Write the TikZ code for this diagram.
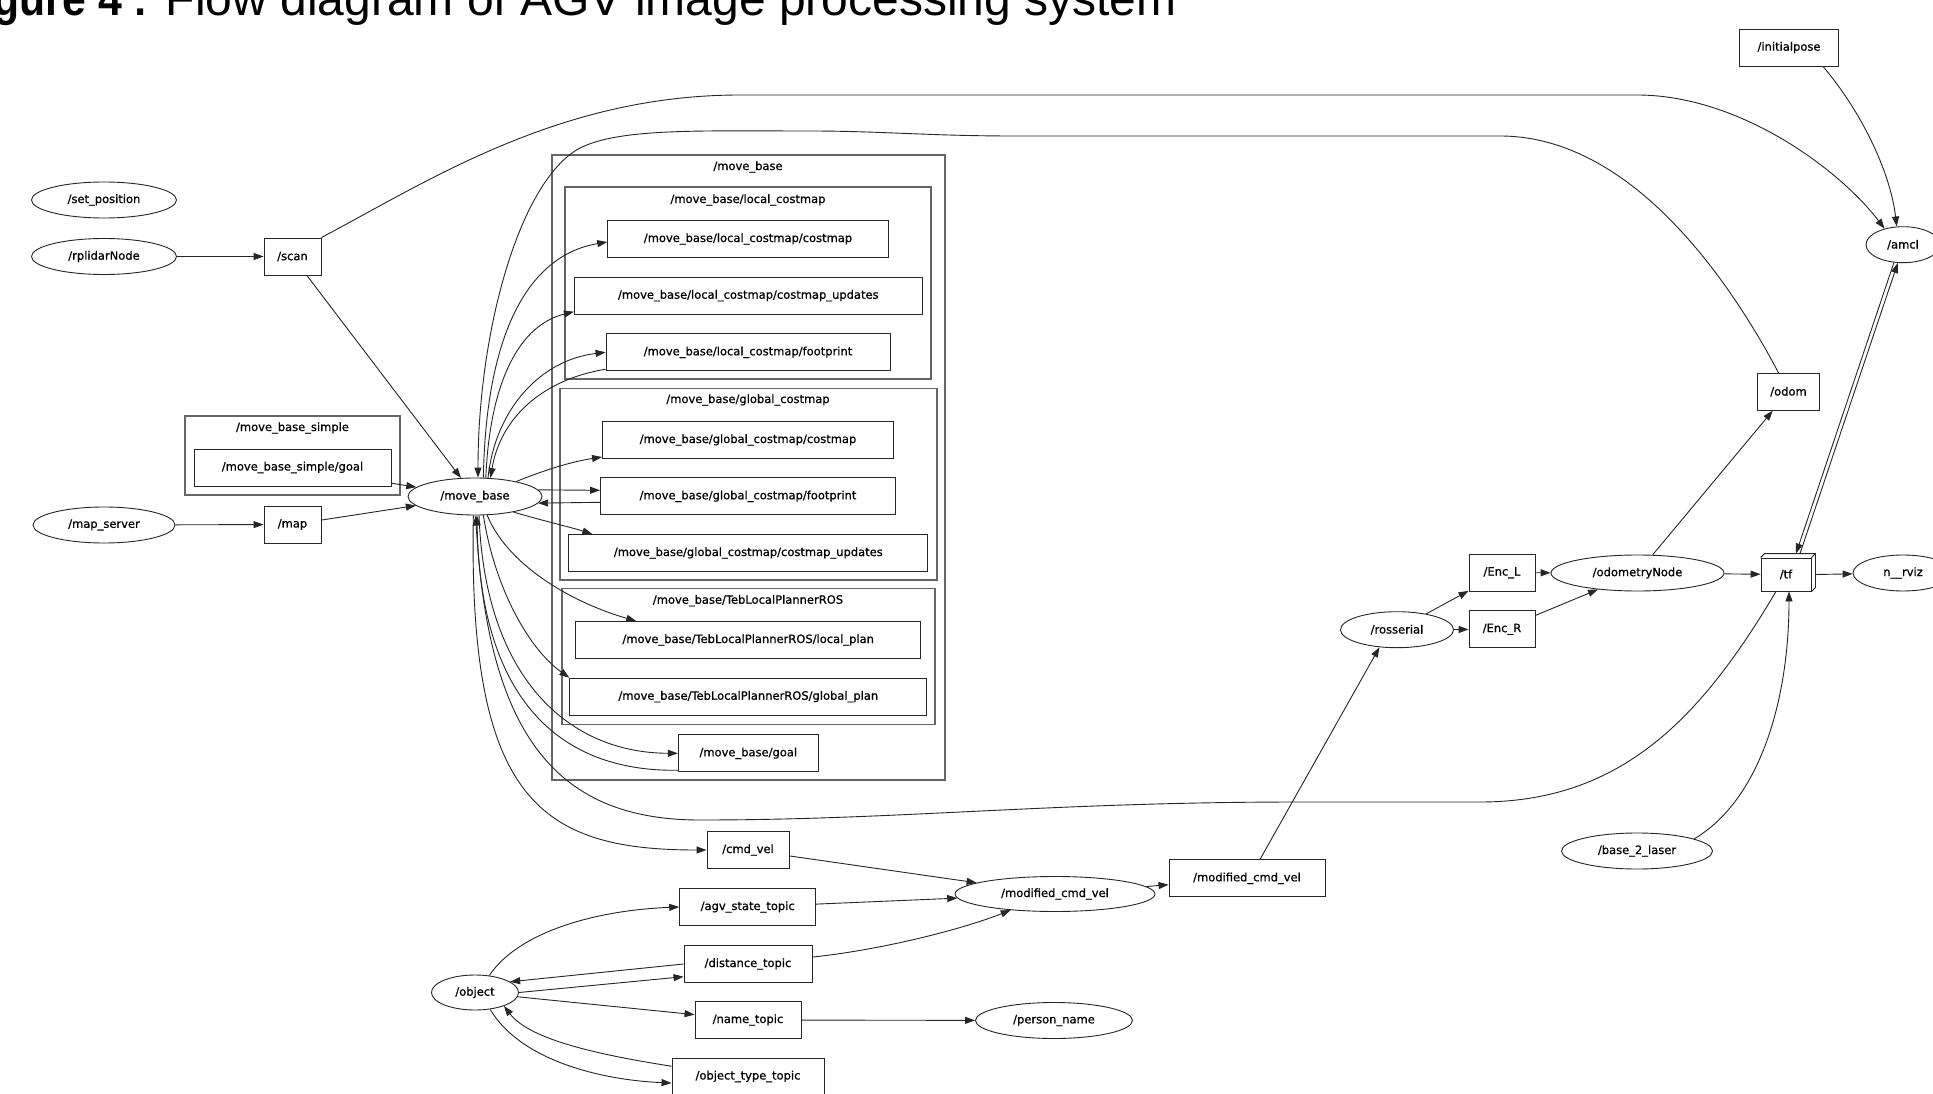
\documentclass[tikz,border=0pt]{standalone}
\usepackage{fontspec}
\setmainfont{DejaVu Sans}[FakeBold=0.7]
\newfontfamily\titlefont{Liberation Sans}
\newfontfamily\titlebold{Liberation Sans Bold}[FakeStretch=0.89]
\usetikzlibrary{shapes.geometric,arrows.meta}
\begin{document}
\begin{tikzpicture}[x=1pt,y=-1pt,
  every node/.style={font=\fontsize{11.5}{13}\selectfont, inner sep=0pt, text=black},
  topic/.style={draw=black!85, line width=0.9pt, rectangle, minimum height=37pt},
  rnode/.style={draw=black!85, line width=0.9pt, ellipse, minimum height=36pt},
  clus/.style={draw=black!60, line width=1.6pt},
  boxline/.style={draw=black!85, line width=0.9pt},
  arr/.style={draw=black!85, line width=0.9pt, -{Triangle[length=10pt,width=7pt]}}]
\useasboundingbox (0,0) rectangle (1933,1094);
\fill[white] (0,0) rectangle (1933,1094);
\begin{scope}
\clip (0,0) rectangle (1933,1094);
% title
\node[font=\titlefont\fontsize{48}{56}\selectfont, anchor=base east] (title) at (1177,16) {{\titlebold Figure 4 :} Flow diagram of AGV image processing system};

% clusters
\draw[clus] (185,416) rectangle (400,495);
\node (msimplelbl) at (292.5,428) {/move\_base\_simple};
\draw[clus] (551.7,155) rectangle (945,780);
\node (mblbl) at (748,167) {/move\_base};
\draw[clus] (565,187) rectangle (931,379);
\node (lclbl) at (748,200) {/move\_base/local\_costmap};
\draw[clus] (560,388.3) rectangle (936.7,580);
\node (gclbl) at (748,400) {/move\_base/global\_costmap};
\draw[clus] (561.7,588.3) rectangle (935,724.3);
\node (teblbl) at (748,600.7) {/move\_base/TebLocalPlannerROS};

% nodes
\node[topic, minimum width=99pt] (initialpose) at (1789,47.5) {/initialpose};
\node[rnode, minimum width=145pt] (setpos) at (104,200) {/set\_position};
\node[rnode, minimum width=145pt] (rplidar) at (104,256.5) {/rplidarNode};
\node[topic, minimum width=57pt] (scan) at (292.5,256.5) {/scan};
\node[topic, minimum width=197pt] (msgoal) at (292.5,467.5) {/move\_base\_simple/goal};
\node[rnode, minimum width=142pt] (mapserver) at (104,525) {/map\_server};
\node[topic, minimum width=57pt] (map) at (292.5,524.5) {/map};
\node[rnode, minimum width=134pt, minimum height=37pt] (movebase) at (475,496.5) {/move\_base};

\node[topic, minimum width=280.6pt] (lccost) at (748,239) {/move\_base/local\_costmap/costmap};
\node[topic, minimum width=348pt] (lcupd) at (748.3,295.7) {/move\_base/local\_costmap/costmap\_updates};
\node[topic, minimum width=284pt] (lcfoot) at (748,352.3) {/move\_base/local\_costmap/footprint};
\node[topic, minimum width=291pt] (gccost) at (748,440) {/move\_base/global\_costmap/costmap};
\node[topic, minimum width=295pt] (gcfoot) at (748,496.3) {/move\_base/global\_costmap/footprint};
\node[topic, minimum width=359pt] (gcupd) at (748.3,553) {/move\_base/global\_costmap/costmap\_updates};
\node[topic, minimum width=345pt] (teblocal) at (748.2,640) {/move\_base/TebLocalPlannerROS/local\_plan};
\node[topic, minimum width=357pt] (tebglobal) at (748.3,696.7) {/move\_base/TebLocalPlannerROS/global\_plan};
\node[topic, minimum width=140pt] (mbgoal) at (748.3,753.3) {/move\_base/goal};

\node[topic, minimum width=82pt] (cmdvel) at (748,850) {/cmd\_vel};
\node[topic, minimum width=136pt] (agv) at (747.7,907) {/agv\_state\_topic};
\node[topic, minimum width=128pt] (distance) at (748,964) {/distance\_topic};
\node[topic, minimum width=106pt] (nametopic) at (748,1020) {/name\_topic};
\node[topic, minimum width=152pt] (objtype) at (748,1076.5) {/object\_type\_topic};
\node[rnode, minimum width=87pt, minimum height=35pt] (object) at (475,992.5) {/object};
\node[rnode, minimum width=200pt, minimum height=35pt] (modell) at (1055,894) {/modified\_cmd\_vel};
\node[rnode, minimum width=157pt] (person) at (1054,1020.5) {/person\_name};
\node[topic, minimum width=156pt] (modbox) at (1247,878.3) {/modified\_cmd\_vel};

\node[rnode, minimum width=113pt] (rosserial) at (1397,629.7) {/rosserial};
\node[topic, minimum width=66pt] (encl) at (1502,572.7) {/Enc\_L};
\node[topic, minimum width=66pt] (encr) at (1502,629.3) {/Enc\_R};
\node[rnode, minimum width=173pt] (odomnode) at (1637.5,573) {/odometryNode};
\node[topic, minimum width=50pt, minimum height=33pt] (tf) at (1786,574.5) {/tf};
\draw[boxline] (tf.north west) -- ++(4,-4) -- ([shift={(4,-4)}]tf.north east) -- ([shift={(4,-4)}]tf.south east) -- (tf.south east);
\draw[boxline] (tf.north east) -- ++(4,-4);
\node[rnode, minimum width=100pt] (rviz) at (1903,573) {n\_\_rviz};
\node[rnode, minimum width=151pt] (base2laser) at (1637,851) {/base\_2\_laser};
\node[rnode, minimum width=74pt] (amcl) at (1903,244.7) {/amcl};
\node[topic, minimum width=62pt] (odom) at (1788.5,391.7) {/odom};

% edges, left part
\draw[arr] (rplidar) -- (scan);
\draw[arr] (scan) -- (movebase);
\draw[arr] (scan.north east) .. controls (430,180) and (560,95) .. (740,95) -- (1637,95) .. controls (1740,95) and (1840,170) .. (amcl.139);
\draw[arr] (msgoal) -- (movebase);
\draw[arr] (mapserver) -- (map);
\draw[arr] (map) -- (movebase);
\draw[arr] ([xshift=-10pt]odom.north) .. controls (1740,300) and (1640,136) .. (1500,136) -- (1014,136) .. controls (930,136) and (880,131) .. (810,131) .. controls (700,131) and (620,128) .. (580,148) .. controls (520,180) and (478,330) .. (movebase.81);

% move_base <-> clusters
\draw[arr] (movebase.66) .. controls (486,330) and (530,255) .. ([yshift=-3pt]lccost.west);
\draw[arr] (movebase.60) .. controls (490,380) and (520,325) .. ([yshift=-16pt]lcupd.west);
\draw[arr] (movebase.55) .. controls (495,410) and (540,360) .. (lcfoot.west);
\draw[arr] ([yshift=2pt]lcfoot.south west) .. controls (540,380) and (500,420) .. (movebase.50);
\draw[arr] (movebase.20) .. controls (545,470) and (570,462) .. ([yshift=-17pt]gccost.west);
\draw[arr] (movebase.6) -- ([yshift=6pt]gcfoot.west);
\draw[arr] ([yshift=-6pt]gcfoot.west) -- (movebase.-6);
\draw[arr] (movebase.-22) .. controls (540,520) and (570,527) .. ([xshift=24pt]gcupd.north west);
\draw[arr] (movebase.-57) .. controls (510,570) and (580,605) .. ([xshift=61pt]teblocal.north west);
\draw[arr] (movebase.-66) .. controls (495,590) and (530,650) .. (tebglobal.north west);
\draw[arr] (movebase.-78) .. controls (485,680) and (570,753) .. (mbgoal.west);
\draw[arr] ([yshift=2pt]mbgoal.south west) .. controls (560,772) and (480,700) .. (movebase.-84);
\draw[arr] ([xshift=-10pt]tf.south) .. controls (1700,720) and (1620,802) .. (1480,802) -- (1300,802) .. controls (1050,802) and (900,820) .. (700,820) .. controls (560,820) and (488,740) .. (movebase.-88);
\draw[arr] (movebase.-95) .. controls (468,800) and (540,850) .. (cmdvel.west);

% bottom group
\draw[arr] (cmdvel) -- (modell);
\draw[arr] (agv) -- (modell);
\draw[arr] ([yshift=-12pt]distance.north east) .. controls (880,950) and (960,930) .. (modell.-160);
\draw[arr] (object.50) .. controls (520,930) and (600,910) .. (agv.west);
\draw[arr] (distance.west) -- (object.17);
\draw[arr] (object.0) -- ([yshift=-12.7pt]distance.west);
\draw[arr] (object) -- (nametopic);
\draw[arr] (nametopic) -- (person);
\draw[arr] ([yshift=-8.7pt]objtype.north west) .. controls (600,1055) and (530,1040) .. (object.-25);
\draw[arr] (object.-48) .. controls (520,1060) and (600,1080) .. ([yshift=-6.5pt]objtype.west);

% right part
\draw[arr] (modell) -- (modbox);
\draw[arr] ([xshift=13pt]modbox.north) -- (rosserial.-135);
\draw[arr] (rosserial) -- (encl);
\draw[arr] (rosserial) -- (encr);
\draw[arr] (encl) -- (odomnode);
\draw[arr] (encr) -- (odomnode);
\draw[arr] (odomnode) -- (odom);
\draw[arr] (odomnode) -- (tf);
\draw[arr] ([xshift=4pt]tf.east) -- (rviz);
\draw[arr] (base2laser.12) .. controls (1760,800) and (1789,700) .. ([xshift=3pt]tf.south);
\draw[arr] ([xshift=34pt]initialpose.south) .. controls (1860,110) and (1890,170) .. (amcl.109);
\draw[arr] (amcl.-117) -- ([shift={(10,-4)}]tf.north);
\draw[arr] ([shift={(14,-4)}]tf.north) -- (amcl.-106);
\end{scope}
\end{tikzpicture}
\end{document}
